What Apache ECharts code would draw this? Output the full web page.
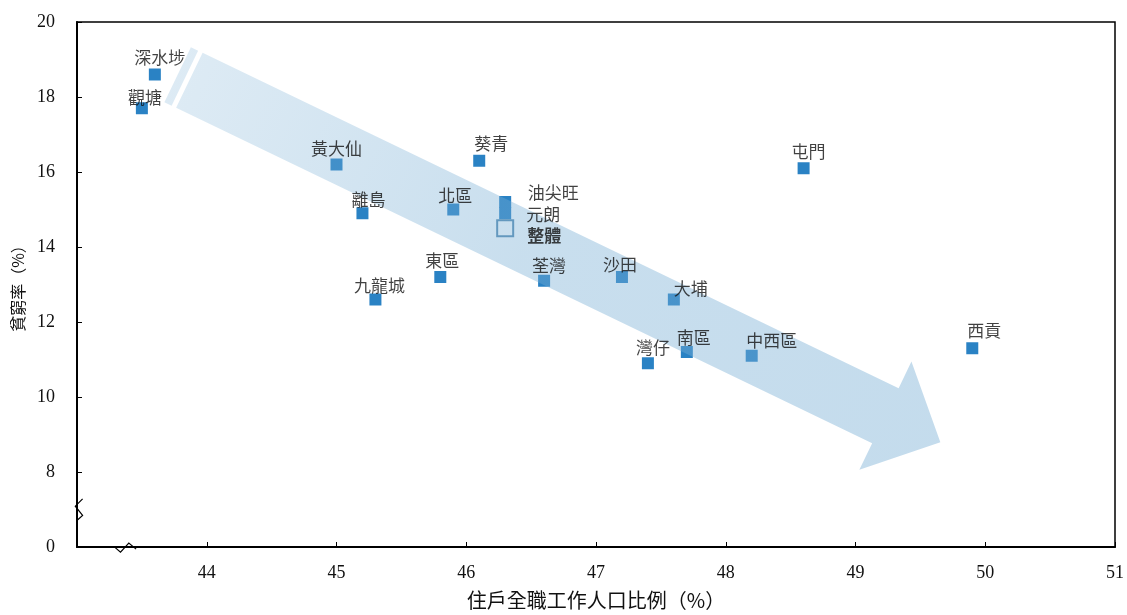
<!DOCTYPE html>
<html>
<head>
<meta charset="utf-8">
<script src="https://cdn.jsdelivr.net/npm/echarts@6/dist/echarts.min.js"></script>
<style>
html,body{margin:0;padding:0;background:#fff;}
#chart{width:1127px;height:615px;}
</style>
</head>
<body>
<div id="chart"></div>
<script>
// ---- data ----
const districts = ['深水埗','觀塘','黃大仙','葵青','屯門','離島','北區','油尖旺','元朗','東區','荃灣','九龍城','沙田','大埔','灣仔','南區','中西區','西貢'];
const employmentPct = [43.6, 43.5, 45.0, 46.1, 48.6, 45.2, 45.9, 46.3, 46.3, 45.8, 46.6, 45.3, 47.2, 47.6, 47.4, 47.7, 48.2, 49.9];
const povertyRate   = [18.6, 17.7, 16.2, 16.3, 16.1, 14.9, 15.0, 15.2, 14.9, 13.2, 13.1, 12.6, 13.2, 12.6, 10.9, 11.2, 11.1, 11.3];
const overallName = '整體';
const overallPoint = [46.3, 14.5];
const xTicks = [44, 45, 46, 47, 48, 49, 50, 51];
const yTicks = [0, 8, 10, 12, 14, 16, 18, 20];
// trend arrow (data coordinates: start centre, tip)
const arrowStart = [43.866, 18.444];
const arrowTip = [49.654, 8.796];
// axis break positions (data coordinates)
const yBreakAt = [43, 7];
const xBreakAt = [43.37, 6];

// ---- label placement (pixel offsets from marker centre) ----
const labelOffsets = [[5,-17],[3,-11],[0,-16],[12,-17],[5,-17],[6,-14],[2,-14],[48,-9],[38,1],[2,-16],[5,-15],[4,-14],[-2,-12],[17,-11],[5,-16],[7,-14],[20,-15],[12,-18]];
const overallLabelOffset = [39,7];

const SERIF = '"Liberation Serif","Times New Roman","Noto Sans CJK TC",serif';
const CJK = '"Noto Sans CJK TC","Liberation Serif",serif';

const chart = echarts.init(document.getElementById('chart'));

const pts = districts.map((n,i)=>[employmentPct[i], povertyRate[i], n]);

const labelData = districts.map((n,i)=>({
  value:[employmentPct[i], povertyRate[i]], name:n,
  label:{offset: labelOffsets[i]}
}));
labelData.push({value: overallPoint, name: overallName, label:{offset: overallLabelOffset, fontWeight:'bold'}});

function renderArrow(params, api){
  const s = api.coord([api.value(0), api.value(1)]);
  const t = api.coord([api.value(2), api.value(3)]);
  const dx=t[0]-s[0], dy=t[1]-s[1], L=Math.hypot(dx,dy);
  const ux=dx/L, uy=dy/L, nx=-uy, ny=ux;
  const P=(a,b)=>[s[0]+ux*a+nx*b, s[1]+uy*a+ny*b];
  const hw=30.5, hh=60, hl=61;
  const fill = {type:'linear', x:s[0], y:s[1], x2:t[0], y2:t[1], global:true,
    colorStops:[{offset:0,color:'rgba(118,173,212,0.25)'},{offset:0.45,color:'rgba(118,173,212,0.40)'},{offset:1,color:'rgba(118,173,212,0.43)'}]};
  return {type:'group', children:[
    {type:'polygon', shape:{points:[P(0,-hw),P(L-hl,-hw),P(L-hl,-hh),P(L,0),P(L-hl,hh),P(L-hl,hw),P(0,hw)]}, style:{fill:fill}},
    {type:'polygon', shape:{points:[P(-13,-hw),P(-5,-hw),P(-5,hw),P(-13,hw)]}, style:{fill:fill}}
  ]};
}

function renderBreaks(params, api){
  const yb = api.coord([yBreakAt[0], yBreakAt[1]]);
  const xb = api.coord([xBreakAt[0], xBreakAt[1]]);
  const st = {stroke:'#000', lineWidth:1.2, fill:null};
  return {type:'group', children:[
    {type:'polyline', shape:{points:[[yb[0]+5.6,yb[1]-10.7],[yb[0]-1.7,yb[1]-3.3],[yb[0]+5.6,yb[1]+6],[yb[0]-0.4,yb[1]+11.3]]}, style:st},
    {type:'polyline', shape:{points:[[xb[0]-11.2,xb[1]-0.6],[xb[0]-4.5,xb[1]+5.1],[xb[0]+3.8,xb[1]-3.9],[xb[0]+11.1,xb[1]+2.1]]}, style:st}
  ]};
}

chart.setOption({
  animation:false,
  backgroundColor:'#fff',
  grid:{left:77, right:6, top:22, bottom:64, show:true, borderColor:'#000', borderWidth:1.5, containLabel:false},
  xAxis:{
    type:'value', min:43, max:51, interval:1,
    name:'住戶全職工作人口比例（%）', nameLocation:'middle', nameGap:43,
    nameTextStyle:{fontFamily:CJK, fontSize:20, color:'#111'},
    axisLine:{show:true, lineStyle:{color:'#000', width:2}},
    axisTick:{show:true, inside:true, length:5, lineStyle:{color:'#000', width:1}},
    axisLabel:{fontFamily:SERIF, fontSize:18, color:'#111', margin:17,
      formatter:v=> xTicks.indexOf(v)>=0 ? String(v) : ''},
    splitLine:{show:false}
  },
  yAxis:{
    type:'value', min:6, max:20, interval:2,
    name:'貧窮率（%）', nameLocation:'middle', nameGap:46, nameRotate:90,
    nameTextStyle:{fontFamily:CJK, fontSize:16, color:'#111'},
    axisLine:{show:true, lineStyle:{color:'#000', width:2}},
    axisTick:{show:true, inside:true, length:5, lineStyle:{color:'#000', width:1}},
    axisLabel:{fontFamily:SERIF, fontSize:18, color:'#111', margin:22,
      formatter:v=> v===6 ? String(yTicks[0]) : (yTicks.indexOf(v)>=0 ? String(v) : '')},
    splitLine:{show:false}
  },
  series:[
    {type:'scatter', z:2, symbol:'rect', symbolSize:12, data:pts,
      itemStyle:{color:'#2A82C4', opacity:1}, silent:true},
    {type:'scatter', z:2, symbol:'rect', symbolSize:16, data:[overallPoint],
      itemStyle:{color:'#fff', borderColor:'#2E6E9E', borderWidth:2}, silent:true},
    {type:'custom', z:3, renderItem:renderArrow, data:[[arrowStart[0],arrowStart[1],arrowTip[0],arrowTip[1]]],
      encode:{x:[0,2], y:[1,3]}, clip:false, silent:true},
    {type:'scatter', z:4, symbol:'rect', symbolSize:1, data:labelData,
      itemStyle:{color:'rgba(0,0,0,0)'}, silent:true,
      label:{show:true, position:'inside', formatter:p=>p.name, fontFamily:CJK, fontSize:17, color:'#111', align:'center', verticalAlign:'middle'}},
    {type:'custom', z:5, renderItem:renderBreaks, data:[[xBreakAt[0], yBreakAt[1]]], clip:false, silent:true}
  ]
});
</script>
</body>
</html>
